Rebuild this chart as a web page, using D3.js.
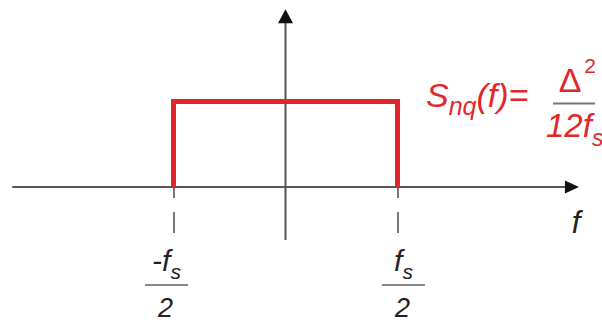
<!DOCTYPE html>
<html><head><meta charset="utf-8">
<script src="https://cdn.jsdelivr.net/npm/d3@7"></script>
<style>
html,body{margin:0;padding:0;background:#fff;overflow:hidden}
svg text{font-family:"Liberation Sans",Arial,sans-serif}
</style></head>
<body><svg id="c" width="602" height="324"></svg>
<script>
// ---- data ----
const bandEdges = [-0.5, 0.5];          // noise band edges, in units of fs
const noiseLevel = 1;                   // quantization noise PSD, Δ²/(12 fs) normalized
const axisExtentX = [-1.22, 1.31];      // horizontal axis span (units of fs)
const axisExtentY = [-0.62, 2.08];      // vertical axis span (units of noise level)
const tickValues = [-0.5, 0.5];
const tickNumerators = ["-f", "f"];
const tickSubscripts = ["s", "s"];
const tickDenominators = ["2", "2"];
const axisLabel = "f";

const svg = d3.select("#c");
const red = "#e3262b", grey = "#555";

const x = d3.scaleLinear().domain(bandEdges).range([173.5, 397.5]);
const y = d3.scaleLinear().domain([0, noiseLevel]).range([187, 101.5]);

// horizontal axis
const hx0 = x(axisExtentX[0]), hx1 = x(axisExtentX[1]);
svg.append("line").attr("x1", hx0).attr("x2", hx1 - 12).attr("y1", y(0)).attr("y2", y(0))
  .attr("stroke", grey).attr("stroke-width", 2);
svg.append("path").attr("d", `M${hx1},${y(0)} L${hx1-14},${y(0)-6.5} L${hx1-14},${y(0)+6.5} Z`).attr("fill", "#111");

// vertical axis
const vy0 = y(axisExtentY[0]), vy1 = y(axisExtentY[1]);
svg.append("line").attr("x1", x(0)).attr("x2", x(0)).attr("y1", vy0).attr("y2", vy1 + 12)
  .attr("stroke", grey).attr("stroke-width", 2);
svg.append("path").attr("d", `M${x(0)},${vy1} L${x(0)-7.5},${vy1+14} L${x(0)+7.5},${vy1+14} Z`).attr("fill", "#111");

// ticks (dashed) via d3 axis
const ax = svg.append("g").attr("transform", `translate(0,${y(0)})`)
  .call(d3.axisBottom(x).tickValues(tickValues).tickSize(46).tickFormat(""));
ax.select(".domain").remove();
ax.selectAll(".tick line").attr("stroke", grey).attr("stroke-width", 1.6)
  .attr("stroke-dasharray", "11 14 21 100");

// noise PSD rectangle
const pts = [[bandEdges[0], 0], [bandEdges[0], noiseLevel], [bandEdges[1], noiseLevel], [bandEdges[1], 0]];
svg.append("path").attr("d", d3.line().x(d => x(d[0])).y(d => y(d[1]))(pts))
  .attr("fill", "none").attr("stroke", red).attr("stroke-width", 5).attr("stroke-linejoin", "miter");

// tick labels as fractions
const offs = [-7, 6];
tickValues.forEach((v, i) => {
  const cx = x(v) + offs[i];
  const t = svg.append("text").attr("x", cx).attr("y", 271).attr("text-anchor", "middle")
    .attr("font-size", 30).attr("font-style", "italic").attr("fill", "#222");
  t.append("tspan").text(tickNumerators[i]);
  t.append("tspan").attr("font-size", 21).attr("dy", 8).text(tickSubscripts[i]);
  svg.append("line").attr("x1", cx - 21.5).attr("x2", cx + 21.5).attr("y1", 285).attr("y2", 285)
    .attr("stroke", "#888").attr("stroke-width", 2);
  svg.append("text").attr("x", cx - 1).attr("y", 317).attr("text-anchor", "middle")
    .attr("font-size", 27).attr("font-style", "italic").attr("fill", "#222").text(tickDenominators[i]);
});

// axis label
svg.append("text").attr("x", 576).attr("y", 233).attr("text-anchor", "middle")
  .attr("font-size", 31).attr("font-style", "italic").attr("fill", "#222").text(axisLabel);

// formula
const f = svg.append("text").attr("x", 426).attr("y", 107).attr("font-size", 34)
  .attr("font-style", "italic").attr("fill", red);
f.append("tspan").text("S");
f.append("tspan").attr("font-size", 25).attr("dy", 8).text("nq");
f.append("tspan").attr("dy", -8).text("(f)=");
svg.append("text").attr("x", 570).attr("y", 92).attr("text-anchor", "middle")
  .attr("font-size", 34).attr("fill", red).text("Δ");
svg.append("text").attr("x", 590).attr("y", 73).attr("text-anchor", "middle")
  .attr("font-size", 21).attr("fill", red).text("2");
svg.append("line").attr("x1", 553).attr("x2", 595).attr("y1", 103.5).attr("y2", 103.5)
  .attr("stroke", "#777").attr("stroke-width", 2);
const g = svg.append("text").attr("x", 546).attr("y", 137).attr("font-size", 33)
  .attr("font-style", "italic").attr("fill", red);
g.append("tspan").text("12f");
g.append("tspan").attr("font-size", 23).attr("dy", 9).text("s");
</script></body></html>
